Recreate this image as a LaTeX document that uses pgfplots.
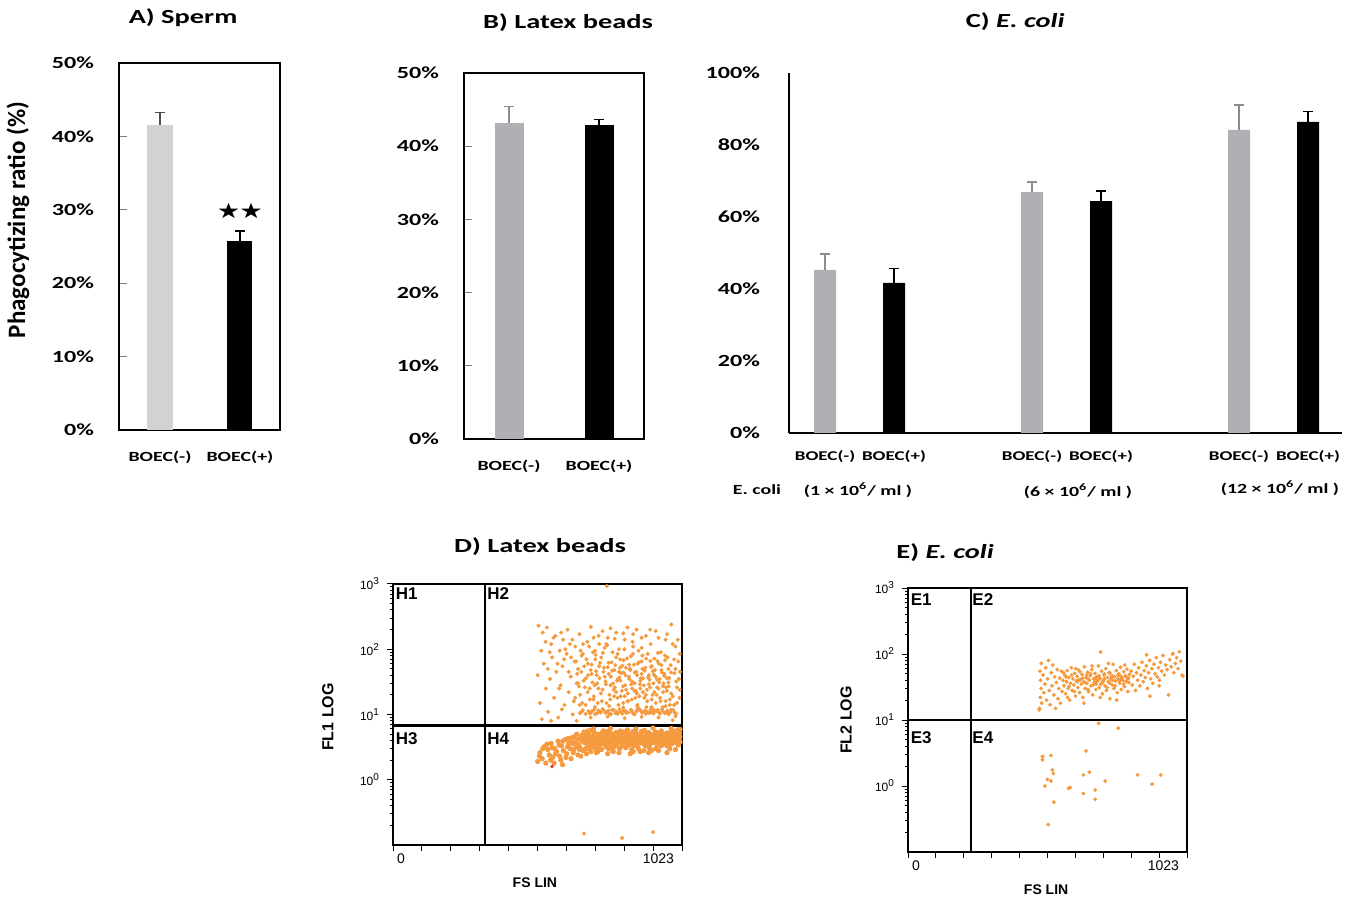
\documentclass[border=0pt]{standalone}
\usepackage{fontspec}
\setmainfont{Carlito}[FakeStretch=1.42]
\newfontfamily\ylabfont{Carlito}
\newfontfamily\arial{Liberation Sans}
\newfontfamily\starfont{DejaVu Sans}[FakeStretch=1.25]
\usepackage{pgfplots}
\pgfplotsset{compat=1.18}

\definecolor{grayA}{HTML}{D1D2D4}
\definecolor{grayB}{HTML}{AEB0B3}
\definecolor{errgray}{HTML}{8A8C8F}
\definecolor{floworange}{HTML}{F59A3E}

\tikzset{quad/.style={font=\arial\bfseries\fontsize{8.5}{10}\selectfont, inner sep=0.5pt}}

\pgfplotsset{
  every axis title shift=0pt,
  barax/.style={
    ybar, bar shift=0pt, ymin=0, scale only axis, clip=false,
    axis line style={line width=0.65pt},
    ytick align=inside, major tick length=4pt, ytick pos=left,
    ytick style={line width=0.6pt},
    xtick style={draw=none},
    yticklabel style={font=\fontsize{8.5}{10}\selectfont\bfseries, xshift=-9pt},
    xticklabel style={font=\fontsize{7}{8.5}\selectfont\bfseries, yshift=-3pt},
    title style={font=\fontsize{10}{12}\selectfont\bfseries, anchor=center},
  },
  errb/.style={error bars/.cd, y dir=plus, y explicit,
    error bar style={line width=0.6pt, #1},
    error mark options={rotate=90, mark size=2.3pt, line width=0.6pt, #1}},
  flowax/.style={
    scale only axis, xmin=0, xmax=1023,
    axis line style={line width=0.75pt},
    tick align=outside, major tick length=3pt, minor tick length=1.6pt,
    tick style={black, line width=0.5pt},
    xtick pos=left, ytick pos=left,
    xtick={0,102.3,204.6,306.9,409.2,511.5,613.8,716.1,818.4,920.7},
    xticklabels={0},
    extra x ticks={1023}, extra x tick labels={1023},
    extra x tick style={xticklabel style={anchor=north east, xshift=1pt}},
    xticklabel style={font=\arial\fontsize{7}{8}\selectfont, anchor=north west, xshift=-1.5pt, yshift=2pt},
    ytick={1,10,100,1000},
    minor ytick={0.2,0.3,0.4,0.5,0.6,0.7,0.8,0.9,2,3,4,5,6,7,8,9,20,30,40,50,60,70,80,90,200,300,400,500,600,700,800,900},
    yticklabels={10\textsuperscript{0},10\textsuperscript{1},10\textsuperscript{2},10\textsuperscript{3}},
    yticklabel style={font=\arial\fontsize{6}{7}\selectfont},
    title style={font=\fontsize{10}{12}\selectfont\bfseries, anchor=center},
    xlabel style={font=\arial\bfseries\fontsize{7}{8}\selectfont, anchor=center},
    ylabel style={font=\arial\bfseries\fontsize{8}{9}\selectfont, anchor=center},
  },
  flowpt/.style={only marks, mark=*, color=floworange, mark size=0.8pt,
    mark options={solid, draw=none, fill=floworange}},
  gate/.style={black, line width=1.2pt, no marks},
}

\begin{document}
\begin{tikzpicture}
\useasboundingbox (0,0) rectangle (675pt,-448.5pt);

% ---------- A) Sperm
\begin{axis}[barax, at={(59.5pt,-215pt)}, anchor=south west,
  width=80.5pt, height=183.5pt, xmin=-0.5125, xmax=1.5, ymax=50,
  bar width=12.5pt,
  ytick={0,10,20,30,40,50}, yticklabels={0\%,10\%,20\%,30\%,40\%,50\%},
  xtick={0,1}, xticklabels={BOEC(-),BOEC(+)},
  title={A) Sperm}, title style={at={(axis description cs:0.398,1.123)}},
  ylabel={Phagocytizing ratio (\%)},
  ylabel style={at={(axis description cs:-0.627,0.572)}, anchor=center,
    font=\ylabfont\bfseries\fontsize{12.5}{14}\selectfont}]
\addplot[fill=grayA, draw=none, errb={black!70}] coordinates {(0,41.6) +- (0,1.7)};
\addplot[fill=black, draw=none, errb={black}] coordinates {(1,25.7) +- (0,1.4)};
\node[font=\starfont\fontsize{10.5}{12}\selectfont, inner sep=0pt] at (axis cs:1,29.8) {★\kern-0.5pt★};
\end{axis}

% ---------- B) Latex beads
\begin{axis}[barax, at={(232pt,-219.5pt)}, anchor=south west,
  width=90pt, height=183pt, xmin=-0.5, xmax=1.5, ymax=50,
  bar width=14.5pt,
  ytick={0,10,20,30,40,50}, yticklabels={0\%,10\%,20\%,30\%,40\%,50\%},
  xtick={0,1}, xticklabels={BOEC(-),BOEC(+)},
  title={B) Latex beads}, title style={at={(axis description cs:0.578,1.139)}}]
\addplot[fill=grayB, draw=none, errb={errgray}] coordinates {(0,43.2) +- (0,2.2)};
\addplot[fill=black, draw=none, errb={black}] coordinates {(1,42.9) +- (0,0.8)};
\end{axis}

% ---------- C) E. coli
\begin{axis}[barax, at={(394.5pt,-216.5pt)}, anchor=south west,
  width=276.5pt, height=180pt, xmin=-0.522, xmax=7.493, ymax=100,
  axis x line=bottom, axis y line=left, axis line style={-, line width=0.55pt},
  ytick style={draw=none},
  bar width=11pt,
  ytick={0,20,40,60,80,100}, yticklabels={0\%,20\%,40\%,60\%,80\%,100\%},
  xtick={0,1,3,4,6,7},
  xticklabels={BOEC(-),BOEC(+),BOEC(-),BOEC(+),BOEC(-),BOEC(+)},
  xticklabel style={font=\fontsize{6.7}{8}\selectfont\bfseries},
  title={C) \textit{E. coli}}, title style={at={(axis description cs:0.409,1.142)}}]
\addplot[fill=grayB, draw=none, errb={errgray}] coordinates {(0,45.3) +- (0,4.4) (3,66.9) +- (0,2.8) (6,84.2) +- (0,6.9)};
\addplot[fill=black, draw=none, errb={black}] coordinates {(1,41.7) +- (0,3.9) (4,64.4) +- (0,2.8) (7,86.4) +- (0,3.0)};
\node[font=\fontsize{7}{8.5}\selectfont\bfseries] at (axis cs:-0.986,-15.8) {E. coli};
\node[font=\fontsize{7}{8.5}\selectfont\bfseries] at (axis cs:0.478,-15.8) {(1 × 10\textsuperscript{6}/ ml )};
\node[font=\fontsize{7}{8.5}\selectfont\bfseries] at (axis cs:3.667,-16.1) {(6 × 10\textsuperscript{6}/ ml )};
\node[font=\fontsize{7}{8.5}\selectfont\bfseries] at (axis cs:6.594,-15.3) {(12 × 10\textsuperscript{6}/ ml )};
\end{axis}

% ---------- D) Latex beads (flow)
\begin{axis}[flowax, ymode=log, ymin=0.1, ymax=1000,
  at={(196.5pt,-422.5pt)}, anchor=south west,
  width=144.5pt, height=130.5pt,
  title={D) Latex beads}, title style={at={(axis description cs:0.509,1.142)}},
  xlabel={FS LIN}, xlabel style={at={(axis description cs:0.491,-0.146)}},
  ylabel={FL1 LOG}, ylabel style={at={(axis description cs:-0.225,0.49)}}]
% H4 band
\addplot[flowpt, mark size=1.1pt] table[row sep=\\] {x y\\
512 1.9\\ 520 2.6\\ 528 2.1\\ 535 3.2\\ 541 1.8\\ 548 2.9\\ 553 2.4\\ 560 3.6\\ 566 2.2\\ 572 3.0\\
579 2.7\\ 584 3.9\\ 590 2.3\\ 597 3.3\\ 603 2.8\\ 609 4.1\\ 615 2.5\\ 621 3.5\\ 627 3.0\\ 633 4.4\\
638 2.6\\ 644 3.8\\ 649 3.2\\ 530 3.0\\ 545 3.5\\ 558 2.0\\ 575 2.5\\ 588 3.4\\ 601 3.9\\ 612 2.2\\
625 4.0\\ 640 2.9\\ 518 2.3\\ 563 3.1\\ 594 2.0\\ 618 3.2\\ 636 3.6\\ 655 2.4\\
655 4.2\\ 662 3.1\\ 668 4.8\\ 673 2.8\\ 679 3.7\\ 684 5.1\\ 690 3.3\\ 695 4.4\\ 701 2.7\\ 706 3.9\\
712 5.3\\ 717 3.0\\ 722 4.1\\ 728 3.5\\ 733 4.9\\ 738 2.9\\ 744 3.8\\ 749 4.5\\ 754 3.2\\ 760 5.5\\
765 3.6\\ 770 4.2\\ 776 2.8\\ 781 3.9\\ 786 4.7\\ 792 3.4\\ 797 5.0\\ 802 3.0\\ 808 4.3\\ 813 3.7\\
818 5.4\\ 824 3.1\\ 829 4.0\\ 834 4.8\\ 840 3.5\\ 845 2.9\\ 850 4.4\\ 856 3.8\\ 861 5.2\\ 866 3.3\\
872 4.1\\ 877 4.9\\ 882 3.6\\ 888 2.8\\ 893 4.5\\ 898 3.9\\ 904 5.3\\ 909 3.4\\ 914 4.2\\ 920 4.8\\
925 3.7\\ 930 3.0\\ 936 4.6\\ 941 5.1\\ 946 3.9\\ 952 4.3\\ 957 3.5\\ 962 5.0\\ 968 4.1\\ 973 3.8\\
978 4.7\\ 984 5.4\\ 989 3.6\\ 994 4.4\\ 1000 4.9\\ 1005 3.9\\ 1010 4.5\\ 1014 5.2\\
658 3.5\\ 665 4.5\\ 671 3.9\\ 676 5.4\\ 682 3.0\\ 687 4.0\\ 693 4.9\\ 698 3.5\\ 704 4.6\\ 709 3.2\\
714 4.3\\ 720 3.7\\ 725 5.0\\ 731 3.1\\ 736 4.0\\ 741 5.3\\ 747 3.5\\ 752 4.1\\ 757 4.8\\ 763 3.0\\
768 3.9\\ 773 5.1\\ 779 4.4\\ 784 3.2\\ 789 4.0\\ 795 4.6\\ 800 3.8\\ 805 5.6\\ 811 3.3\\ 816 4.5\\
821 4.0\\ 827 3.4\\ 832 5.0\\ 837 4.2\\ 843 3.9\\ 848 5.3\\ 853 3.3\\ 859 4.6\\ 864 4.1\\ 869 3.0\\
875 4.3\\ 880 5.5\\ 885 4.0\\ 891 3.5\\ 896 4.8\\ 901 4.3\\ 907 3.1\\ 912 5.0\\ 917 3.8\\ 923 4.4\\
928 5.2\\ 933 3.6\\ 939 4.1\\ 944 4.7\\ 949 3.3\\ 955 4.9\\ 960 4.2\\ 965 3.7\\ 971 5.2\\ 976 4.0\\
981 3.5\\ 987 4.6\\ 992 5.1\\ 997 4.1\\ 1003 3.7\\ 1008 5.0\\ 1013 4.3\\ 1016 3.8\\
660 2.9\\ 675 4.2\\ 688 3.6\\ 700 4.1\\ 713 3.4\\ 726 4.4\\ 739 3.6\\ 751 3.9\\ 762 4.3\\ 774 3.5\\
787 4.4\\ 799 4.1\\ 810 3.6\\ 822 4.6\\ 835 3.8\\ 846 4.4\\ 858 3.5\\ 870 4.7\\ 883 4.3\\ 894 3.3\\
906 4.6\\ 918 4.2\\ 931 4.5\\ 943 3.4\\ 954 4.0\\ 966 4.5\\ 979 4.2\\ 990 4.0\\ 1002 4.4\\ 1011 4.1\\
720 2.6\\ 780 2.7\\ 850 2.7\\ 915 2.8\\ 980 3.0\\ 745 5.6\\ 830 5.8\\ 890 5.7\\ 950 5.6\\ 1007 5.8\\
700 5.7\\ 680 4.6\\ 690 5.6\\ 710 4.5\\ 730 3.8\\ 750 5.0\\ 770 3.2\\ 790 5.3\\ 810 4.8\\ 830 3.3\\
850 5.5\\ 870 3.8\\ 890 4.2\\ 910 3.7\\ 930 5.4\\ 950 4.5\\ 970 3.3\\ 990 5.6\\ 1010 3.4\\ 695 3.0\\
735 4.4\\ 775 4.9\\ 815 4.1\\ 855 4.9\\ 895 5.2\\ 935 3.9\\ 975 4.8\\ 1015 4.6\\ 640 4.5\\ 650 5.0\\
620 4.3\\
685 2.5\\ 725 2.7\\ 760 2.5\\ 800 2.6\\ 840 2.5\\ 875 2.7\\ 905 2.6\\ 940 2.8\\ 970 2.6\\ 1000 2.9\\
710 6.0\\ 770 6.1\\ 860 6.0\\ 920 6.2\\ 985 6.1\\ 1016 5.9\\ 600 1.7\\ 570 1.8\\ 630 2.1\\ 665 2.3\\
};
% H2 region
\addplot[flowpt] table[row sep=\\] {x y\\
515 230\\ 530 180\\ 545 215\\ 560 120\\ 575 160\\ 590 95\\ 602 140\\ 618 200\\ 630 75\\ 645 110\\
660 170\\ 672 85\\ 688 130\\ 700 220\\ 715 95\\ 728 160\\ 742 190\\ 755 120\\ 770 210\\ 785 145\\
800 100\\ 815 175\\ 830 215\\ 848 130\\ 862 200\\ 880 105\\ 895 160\\ 912 120\\ 930 190\\ 948 90\\
965 140\\ 985 240\\ 1000 110\\ 1015 85\\
512 40\\ 520 15\\ 527 8.5\\ 534 60\\ 541 25\\ 549 11\\ 556 35\\ 563 75\\ 570 18\\ 578 45\\
585 9\\ 593 28\\ 600 55\\ 607 14\\ 615 85\\ 622 22\\ 629 38\\ 636 10\\ 643 65\\ 650 30\\
525 95\\ 560 8\\ 598 12\\ 640 16\\
655 50\\ 662 20\\ 668 80\\ 675 33\\ 682 14\\ 690 60\\ 696 25\\ 703 42\\ 710 17\\ 716 70\\
723 30\\ 730 55\\ 736 21\\ 743 88\\ 750 38\\ 756 15\\ 763 62\\ 770 28\\ 776 47\\ 783 19\\
790 75\\ 796 35\\ 803 52\\ 810 23\\ 816 68\\ 823 40\\ 830 16\\ 836 58\\ 843 29\\ 850 85\\
856 44\\ 863 21\\ 870 63\\ 876 33\\ 883 50\\ 890 18\\ 896 72\\ 903 37\\ 910 26\\ 916 55\\
923 41\\ 930 15\\ 936 66\\ 943 31\\ 950 48\\ 956 22\\ 963 80\\ 970 36\\ 976 27\\ 983 57\\
990 19\\ 996 43\\ 1003 32\\ 1010 65\\ 1015 24\\
785 26\\ 795 18\\ 805 33\\ 815 15\\ 825 24\\ 835 38\\ 845 17\\ 855 30\\ 865 14\\ 875 25\\
885 36\\ 895 20\\ 905 29\\ 915 13\\ 925 22\\ 935 34\\ 945 18\\ 955 27\\ 965 16\\ 975 31\\
985 21\\ 995 14\\ 1005 26\\ 1014 18\\ 800 45\\ 840 48\\ 880 42\\ 920 46\\ 960 39\\ 1000 50\\
820 19\\ 860 23\\ 900 16\\ 940 25\\ 980 17\\ 1012 35\\
645 18\\ 652 42\\ 658 27\\ 664 95\\ 670 15\\ 677 55\\ 683 36\\ 689 22\\ 694 110\\ 700 48\\
706 31\\ 711 19\\ 717 82\\ 721 40\\ 727 25\\ 733 62\\ 739 16\\ 745 45\\ 749 105\\ 754 29\\
760 53\\ 766 20\\ 771 38\\ 777 90\\ 781 24\\ 787 57\\ 793 33\\ 798 14\\ 804 70\\ 808 43\\
814 27\\ 819 100\\ 825 52\\ 831 21\\ 836 35\\ 842 78\\ 847 25\\ 853 58\\ 858 18\\ 864 40\\
869 95\\ 874 29\\ 880 65\\ 885 22\\ 891 47\\ 897 13\\ 902 85\\ 908 34\\ 913 54\\ 919 20\\
925 72\\ 930 38\\ 935 26\\ 941 60\\ 947 16\\ 952 44\\ 958 30\\ 963 68\\ 969 23\\ 975 50\\
980 14\\ 648 65\\ 655 30\\ 661 14\\ 667 45\\ 673 120\\ 679 26\\ 685 70\\ 691 40\\ 697 17\\
703 58\\ 708 90\\ 714 28\\ 719 46\\ 725 15\\ 731 36\\ 737 75\\ 742 24\\ 747 52\\ 752 32\\
758 115\\ 764 42\\ 769 17\\ 774 63\\ 779 30\\ 784 48\\ 790 22\\ 795 85\\ 801 37\\ 806 19\\
812 56\\ 817 44\\ 822 28\\ 828 72\\ 833 16\\ 839 50\\ 845 32\\ 850 110\\ 855 23\\ 861 45\\
866 60\\ 872 19\\ 877 36\\ 883 80\\ 888 28\\ 894 52\\ 899 24\\ 905 40\\ 911 66\\ 916 17\\
922 30\\ 927 48\\ 933 20\\ 938 88\\ 944 35\\ 950 57\\ 955 13\\ 961 42\\ 966 26\\ 972 75\\
978 36\\ 984 44\\
540 130\\ 555 90\\ 568 150\\ 582 60\\ 595 180\\ 610 100\\ 622 45\\ 635 140\\ 548 50\\ 588 25\\
606 70\\ 626 120\\ 1008 140\\ 995 70\\ 1016 45\\ 1005 15\\ 990 120\\ 970 170\\ 940 150\\ 910 200\\
880 150\\ 850 170\\ 820 140\\ 790 180\\ 760 150\\ 730 120\\ 710 150\\
662 10.5\\ 672 11.6\\ 682 10.2\\ 692 11.2\\ 702 10.8\\ 712 11.9\\ 722 10.4\\ 732 11.0\\ 742 12.1\\ 752 10.6\\
762 11.4\\ 772 10.1\\ 782 11.7\\ 792 10.9\\ 802 12.0\\ 812 10.3\\ 822 11.3\\ 832 10.7\\ 842 11.8\\ 852 10.2\\
862 11.1\\ 872 12.2\\ 882 10.6\\ 892 11.5\\ 902 10.9\\ 912 11.9\\ 922 10.4\\ 932 11.2\\ 942 10.8\\ 952 12.0\\
962 10.5\\ 972 11.4\\ 982 10.9\\ 992 11.7\\ 1002 10.3\\ 667 11.0\\ 697 10.4\\ 727 11.5\\ 757 10.9\\ 787 10.5\\
817 11.6\\ 847 10.8\\ 877 11.3\\ 907 10.5\\ 937 11.7\\ 967 11.0\\ 997 10.7\\ 700 9.0\\ 760 9.3\\ 820 8.8\\
880 9.2\\ 940 9.0\\ 1000 9.4\\ 650 8.0\\ 990 8.2\\
705 11.3\\ 715 10.1\\ 735 10.7\\ 745 11.6\\ 765 10.3\\ 775 11.8\\ 795 10.2\\ 805 11.0\\ 825 10.6\\ 845 11.4\\
855 10.0\\ 865 11.9\\ 885 11.0\\ 895 10.2\\ 915 10.8\\ 925 11.6\\ 945 10.3\\ 955 11.2\\ 975 10.1\\ 985 11.8\\
715 13\\ 765 13.5\\ 815 12.8\\ 865 13.3\\ 915 12.6\\ 965 13.4\\
757 930\\ 676 0.15\\ 811 0.128\\ 921 0.158\\
};
\addplot[only marks, mark=*, mark size=0.7pt, color=red!80, mark options={draw=none, fill=red!80}] coordinates {(563,1.6)};
\addplot[gate] coordinates {(326,0.1) (326,1000)};
\addplot[gate] coordinates {(0,6.8) (1023,6.8)};
\node[quad, anchor=north west] at (axis description cs:0.005,0.99) {H1};
\node[quad, anchor=north west] at (axis description cs:0.322,0.99) {H2};
\node[quad, anchor=north west] at (axis description cs:0.005,0.437) {H3};
\node[quad, anchor=north west] at (axis description cs:0.322,0.437) {H4};
\end{axis}

% ---------- E) E. coli (flow)
\begin{axis}[flowax, ymode=log, ymin=0.1, ymax=1000,
  at={(454pt,-426pt)}, anchor=south west,
  width=139.5pt, height=132pt,
  title={E) \textit{E. coli}}, title style={at={(axis description cs:0.133,1.133)}},
  xlabel={FS LIN}, xlabel style={at={(axis description cs:0.495,-0.144)}},
  ylabel={FL2 LOG}, ylabel style={at={(axis description cs:-0.222,0.5)}}]
\addplot[flowpt, mark size=0.75pt] table[row sep=\\] {x y\\
482 15\\ 485 22\\ 488 30\\ 486 40\\ 484 55\\ 489 72\\ 490 18\\ 495 48\\ 498 26\\ 502 35\\
505 62\\ 508 20\\ 512 42\\ 515 80\\ 518 28\\ 521 17\\ 525 52\\ 528 33\\ 531 68\\ 535 24\\
538 45\\ 541 15\\ 544 37\\ 547 58\\ 550 21\\ 553 30\\ 556 43\\ 559 18\\ 562 55\\ 565 27\\
568 40\\ 572 33\\ 575 48\\ 578 25\\ 581 38\\ 584 56\\ 587 30\\ 590 44\\ 593 20\\ 596 36\\
599 62\\ 602 28\\ 605 42\\ 608 34\\ 611 51\\ 614 23\\ 617 39\\ 620 46\\ 623 31\\ 626 57\\
629 26\\ 632 41\\ 635 35\\ 638 49\\ 641 22\\ 644 38\\ 647 64\\ 650 30\\ 653 44\\ 656 36\\
659 53\\ 662 27\\ 665 40\\ 668 47\\ 671 33\\ 674 58\\ 677 24\\ 680 42\\ 683 37\\ 686 51\\
689 29\\ 692 45\\ 695 39\\ 698 66\\ 701 31\\ 704 43\\ 707 35\\ 710 55\\ 713 25\\ 716 40\\
719 48\\ 722 33\\ 725 60\\ 728 28\\ 731 44\\ 734 38\\ 737 52\\ 740 21\\ 743 41\\ 746 47\\
749 34\\ 752 70\\ 755 30\\ 758 45\\ 761 39\\ 764 56\\ 767 26\\ 770 42\\ 773 50\\ 776 36\\
779 63\\ 782 29\\ 785 44\\ 788 40\\ 791 54\\ 794 32\\ 797 47\\ 800 38\\ 803 59\\ 806 27\\
809 43\\ 812 49\\
570 52\\ 580 45\\ 590 32\\ 600 48\\ 610 27\\ 620 38\\ 630 54\\ 640 43\\ 650 37\\ 660 29\\
670 50\\ 680 34\\ 690 40\\ 700 47\\ 710 36\\ 720 42\\ 730 31\\ 740 52\\ 750 40\\ 760 33\\
770 48\\ 780 41\\ 790 35\\ 800 45\\ 810 37\\ 585 22\\ 615 60\\ 645 18\\ 675 66\\ 705 22\\
735 72\\ 765 20\\ 795 68\\ 625 40\\ 655 48\\ 685 43\\ 715 38\\ 745 44\\ 775 39\\ 805 42\\
700 41\\ 740 36\\ 780 46\\ 660 42\\ 690 35\\ 720 50\\ 750 46\\
818 55\\ 822 34\\ 826 46\\ 830 70\\ 834 28\\ 838 52\\ 842 40\\ 846 62\\ 850 33\\ 854 48\\
858 75\\ 862 38\\ 866 56\\ 870 44\\ 874 66\\ 878 30\\ 882 52\\ 886 80\\ 890 42\\ 894 60\\
898 36\\ 902 70\\ 906 50\\ 910 88\\ 914 45\\ 918 62\\ 922 40\\ 926 75\\ 930 55\\ 935 95\\
940 48\\ 945 68\\ 950 58\\ 955 24\\ 960 82\\ 965 64\\ 970 100\\ 975 52\\ 980 72\\ 985 88\\
990 60\\ 995 108\\ 1000 78\\ 1005 48\\ 1008 46\\ 972 102\\ 875 97\\ 706 107\\ 887 23\\ 921 33\\
481 14.2\\
493 2.8\\ 493 2.5\\ 524 2.9\\ 529 1.75\\ 533 1.55\\ 511 1.26\\ 502 1.0\\ 524 1.19\\ 535 0.57\\ 514 0.26\\
594 0.95\\ 589 0.92\\ 643 1.47\\ 665 1.62\\ 653 3.4\\ 643 0.77\\ 686 0.87\\ 686 0.63\\ 723 1.19\\ 771 7.5\\
699 8.9\\ 842 1.47\\ 895 1.07\\ 927 1.47\\
};
\addplot[gate] coordinates {(232,0.1) (232,1000)};
\addplot[gate] coordinates {(0,10) (1023,10)};
\node[quad, anchor=north west] at (axis description cs:0.005,0.985) {E1};
\node[quad, anchor=north west] at (axis description cs:0.226,0.985) {E2};
\node[quad, anchor=north west] at (axis description cs:0.005,0.462) {E3};
\node[quad, anchor=north west] at (axis description cs:0.226,0.462) {E4};
\end{axis}
\end{tikzpicture}
\end{document}
